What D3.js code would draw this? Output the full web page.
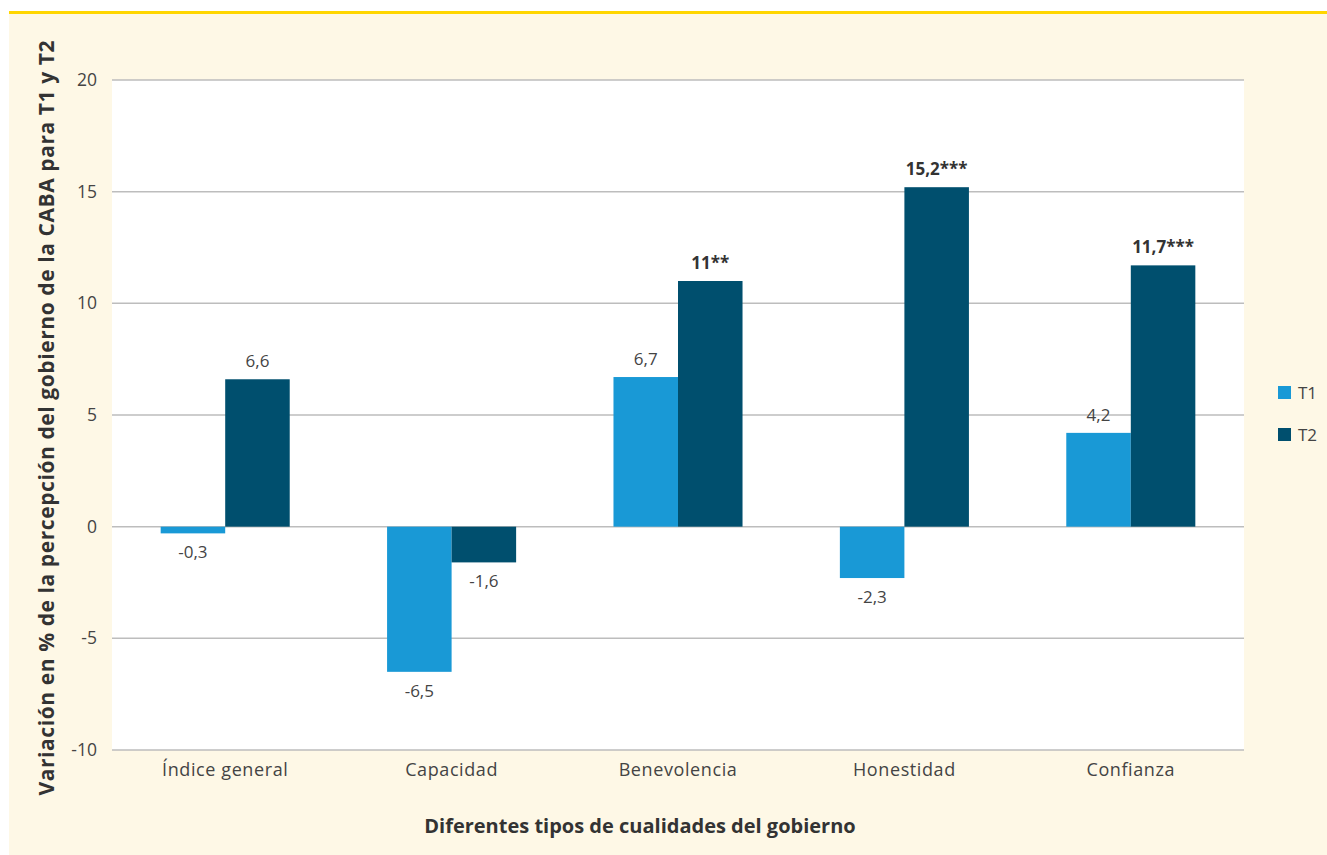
<!DOCTYPE html>
<html>
<head>
<meta charset="utf-8">
<script src="https://cdn.jsdelivr.net/npm/d3@7"></script>
<style>
  html, body { margin: 0; padding: 0; background: #fff; }
  svg { display: block; }
  text { font-family: "Open Sans", "Noto Sans", sans-serif; }
</style>
</head>
<body>
<svg id="chart" width="1327" height="855"></svg>
<script>
const categories = ["Índice general", "Capacidad", "Benevolencia", "Honestidad", "Confianza"];
const seriesNames = ["T1", "T2"];
const t1Values = [-0.3, -6.5, 6.7, -2.3, 4.2];
const t2Values = [6.6, -1.6, 11, 15.2, 11.7];
const t1Labels = ["-0,3", "-6,5", "6,7", "-2,3", "4,2"];
const t2Labels = ["6,6", "-1,6", "11**", "15,2***", "11,7***"];
const t2Bold = [false, false, true, true, true];
const yTicks = [-10, -5, 0, 5, 10, 15, 20];

const colors = { T1: "#1999D6", T2: "#004F6E" };

const svg = d3.select("#chart");
const W = 1327, H = 855;
const m = { left: 112, right: 1244, top: 80, bottom: 750 };

// background panel
svg.append("rect").attr("x", 9).attr("y", 12).attr("width", W - 9).attr("height", H - 12).attr("fill", "#FEF8E6");
svg.append("rect").attr("x", 9).attr("y", 11).attr("width", W - 9).attr("height", 3).attr("fill", "#FFD600");
svg.append("rect").attr("x", m.left).attr("y", m.top).attr("width", m.right - m.left).attr("height", m.bottom - m.top).attr("fill", "#fff");

const y = d3.scaleLinear().domain([-10, 20]).range([m.bottom, m.top]);
const x0 = d3.scaleBand().domain(categories).range([m.left, m.right]).paddingInner(0.43).paddingOuter(0.215);
const x1 = d3.scaleBand().domain(seriesNames).range([0, x0.bandwidth()]).padding(0);

// gridlines
svg.append("g").selectAll("line").data(yTicks).join("line")
  .attr("x1", m.left).attr("x2", m.right)
  .attr("y1", d => y(d)).attr("y2", d => y(d))
  .attr("stroke", "#BDBDBD").attr("stroke-width", 1.5);

// y tick labels via axis
const yAxis = svg.append("g").attr("transform", `translate(${m.left},0)`)
  .call(d3.axisLeft(y).tickValues(yTicks).tickSize(0).tickPadding(15).tickFormat(d => String(d)));
yAxis.select(".domain").remove();
yAxis.selectAll("text").attr("font-size", 17.5).attr("fill", "#444").style("font-family", '"Open Sans", sans-serif');

// x category labels via axis
const xAxis = svg.append("g").attr("transform", `translate(0,${m.bottom})`)
  .call(d3.axisBottom(x0).tickSize(0).tickPadding(13));
xAxis.select(".domain").remove();
xAxis.selectAll("text").attr("font-size", 18).attr("letter-spacing", 0.6).attr("fill", "#444").style("font-family", '"Open Sans", sans-serif');

const rows = categories.map((c, i) => ({
  cat: c,
  vals: [
    { s: "T1", v: t1Values[i], label: t1Labels[i], bold: false },
    { s: "T2", v: t2Values[i], label: t2Labels[i], bold: t2Bold[i] }
  ]
}));

const groups = svg.append("g").selectAll("g").data(rows).join("g")
  .attr("transform", d => `translate(${x0(d.cat)},0)`);

groups.selectAll("rect").data(d => d.vals).join("rect")
  .attr("x", d => x1(d.s))
  .attr("width", x1.bandwidth())
  .attr("y", d => y(Math.max(0, d.v)))
  .attr("height", d => Math.abs(y(d.v) - y(0)))
  .attr("fill", d => colors[d.s]);

groups.selectAll("text").data(d => d.vals).join("text")
  .attr("x", d => x1(d.s) + x1.bandwidth() / 2)
  .attr("y", d => d.v >= 0 ? y(d.v) - 12 : y(d.v) + 25)
  .attr("text-anchor", "middle")
  .attr("font-size", 17)
  .attr("font-weight", d => d.bold ? 700 : 400)
  .attr("fill", d => d.bold ? "#333" : "#444")
  .text(d => d.label);

// axis titles
svg.append("text")
  .attr("transform", "translate(54,418) rotate(-90)")
  .attr("text-anchor", "middle")
  .attr("font-size", 21).attr("font-weight", 700).attr("fill", "#333")
  .attr("textLength", 755).attr("lengthAdjust", "spacing")
  .text("Variación en % de la percepción del gobierno de la CABA para T1 y T2");

svg.append("text")
  .attr("x", 640).attr("y", 833)
  .attr("text-anchor", "middle")
  .attr("font-size", 20).attr("font-weight", 700).attr("fill", "#333")
  .text("Diferentes tipos de cualidades del gobierno");

// legend
const legend = svg.append("g").selectAll("g").data(seriesNames).join("g")
  .attr("transform", (d, i) => `translate(1278,${386 + i * 42})`);
legend.append("rect").attr("width", 13).attr("height", 13).attr("fill", d => colors[d]);
legend.append("text").attr("x", 20).attr("y", 13).attr("font-size", 17).attr("fill", "#444").text(d => d);
</script>
</body>
</html>
